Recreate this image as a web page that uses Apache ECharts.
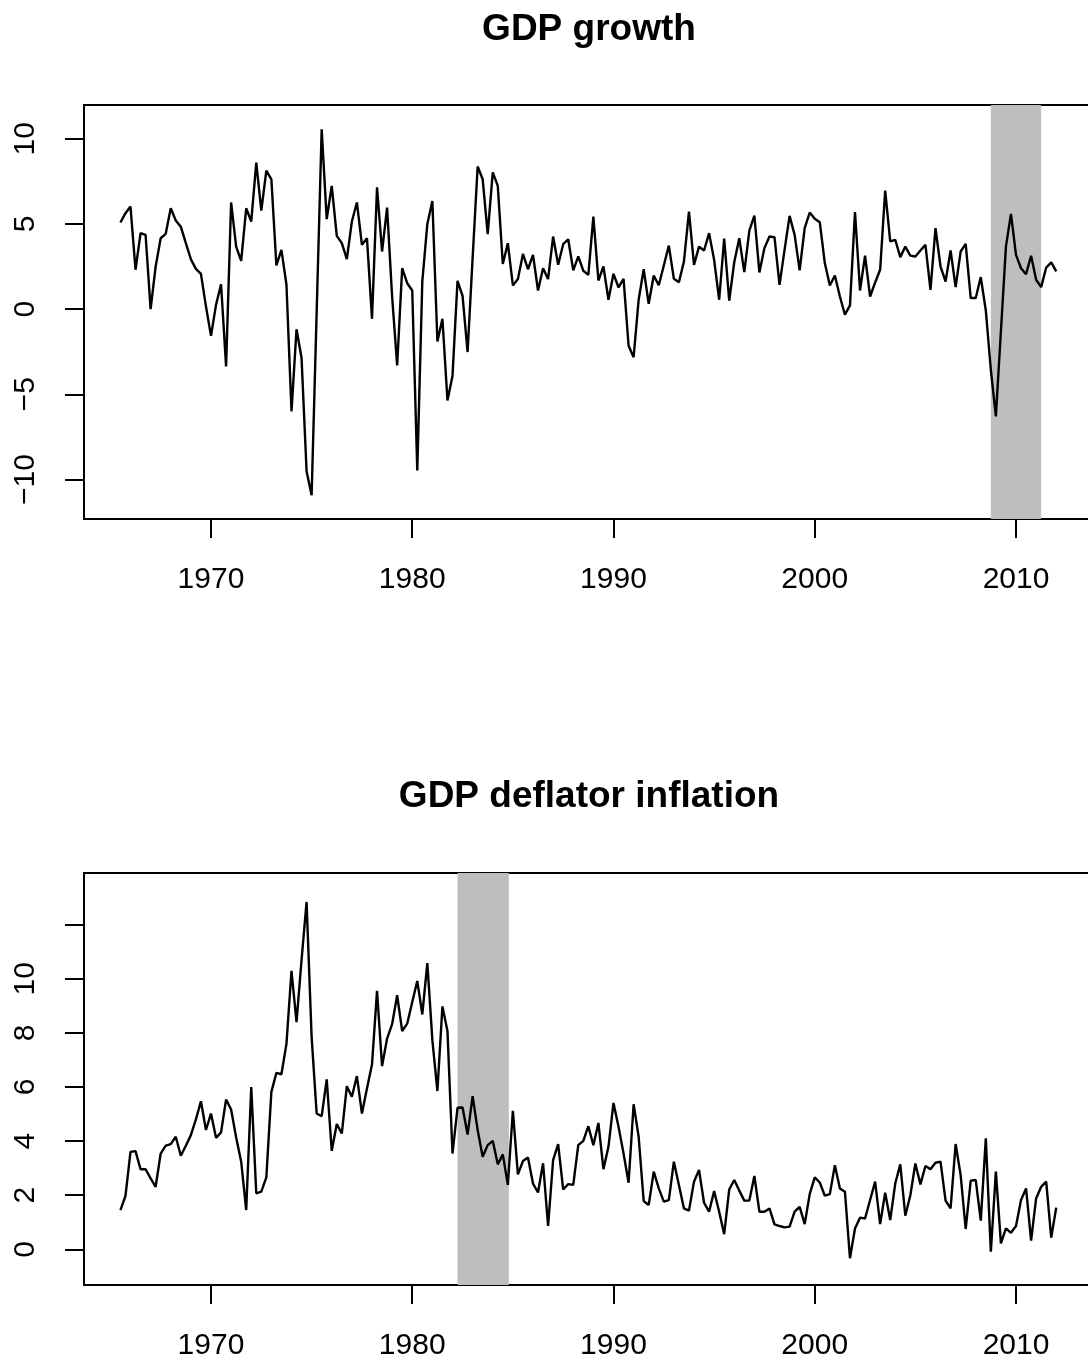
<!DOCTYPE html>
<html>
<head>
<meta charset="utf-8">
<script src="https://cdn.jsdelivr.net/npm/echarts@6/dist/echarts.min.js"></script>
<style>
  html, body { margin: 0; padding: 0; background: #ffffff; overflow: hidden; }
  #main { width: 1100px; height: 1363px; }
</style>
</head>
<body>
<div id="main"></div>
<script>
// quarterly series, first observation 1965 Q3
const startYear = 1965.5;
const step = 0.25;

const gdpGrowth = [
  5.08, 5.63, 6.02, 2.31, 4.46, 4.36, 0.0, 2.5, 4.16, 4.42,
  5.92, 5.2, 4.84, 3.87, 2.93, 2.36, 2.07, 0.16, -1.57, 0.25,
  1.46, -3.36, 6.26, 3.67, 2.83, 5.92, 5.14, 8.6, 5.78, 8.13,
  7.62, 2.56, 3.48, 1.43, -6.0, -1.18, -2.87, -9.52, -10.93, -0.2,
  10.56, 5.28, 7.23, 4.3, 3.87, 2.93, 5.14, 6.26, 3.77, 4.16,
  -0.57, 7.15, 3.38, 5.96, 0.74, -3.31, 2.4, 1.52, 1.09, -9.47,
  1.62, 5.0, 6.35, -1.9, -0.57, -5.36, -3.92, 1.66, 0.78, -2.52,
  3.0, 8.37, 7.62, 4.4, 8.03, 7.23, 2.65, 3.87, 1.39, 1.76,
  3.24, 2.34, 3.18, 1.09, 2.4, 1.76, 4.26, 2.6, 3.81, 4.1,
  2.27, 3.09, 2.25, 2.01, 5.43, 1.68, 2.5, 0.55, 2.07, 1.27,
  1.78, -2.15, -2.82, 0.55, 2.34, 0.31, 1.97, 1.4, 2.56, 3.73,
  1.78, 1.58, 2.79, 5.72, 2.6, 3.67, 3.44, 4.46, 2.89, 0.55,
  4.14, 0.49, 2.75, 4.16, 2.17, 4.61, 5.49, 2.15, 3.58, 4.26,
  4.22, 1.42, 3.48, 5.47, 4.36, 2.27, 4.75, 5.67, 5.3, 5.1,
  2.7, 1.39, 1.97, 0.74, -0.33, 0.22, 5.7, 1.09, 3.14, 0.74,
  1.56, 2.31, 6.96, 3.97, 4.07, 3.05, 3.67, 3.14, 3.09, 3.44,
  3.77, 1.13, 4.75, 2.5, 1.62, 3.44, 1.29, 3.38, 3.83, 0.65,
  0.65, 1.88, -0.08, -3.56, -6.3, -1.3, 3.67, 5.59, 3.18, 2.4,
  2.05, 3.13, 1.72, 1.29, 2.44, 2.74, 2.21
];

const deflatorInflation = [
  1.45, 1.97, 3.6, 3.63, 2.96, 2.96, 2.62, 2.31, 3.54, 3.83,
  3.89, 4.16, 3.46, 3.83, 4.22, 4.8, 5.47, 4.41, 5.02, 4.12,
  4.32, 5.54, 5.17, 4.13, 3.24, 1.45, 6.0, 2.07, 2.13, 2.66,
  5.82, 6.52, 6.47, 7.6, 10.29, 8.4, 10.7, 12.84, 7.85, 5.02,
  4.92, 6.28, 3.64, 4.63, 4.28, 6.03, 5.64, 6.4, 5.02, 5.94,
  6.83, 9.55, 6.77, 7.79, 8.32, 9.39, 8.07, 8.34, 9.14, 9.92,
  8.68, 10.58, 7.73, 5.85, 8.98, 8.07, 3.54, 5.23, 5.24, 4.24,
  5.66, 4.41, 3.42, 3.85, 4.01, 3.14, 3.51, 2.38, 5.12, 2.77,
  3.26, 3.39, 2.43, 2.1, 3.18, 0.86, 3.3, 3.89, 2.21, 2.41,
  2.38, 3.85, 4.01, 4.55, 3.85, 4.67, 2.96, 3.79, 5.41, 4.53,
  3.54, 2.46, 5.36, 4.16, 1.78, 1.64, 2.87, 2.25, 1.76, 1.82,
  3.24, 2.38, 1.51, 1.43, 2.5, 2.93, 1.72, 1.39, 2.15, 1.39,
  0.56, 2.21, 2.56, 2.17, 1.8, 1.8, 2.71, 1.39, 1.39, 1.51,
  0.92, 0.86, 0.81, 0.84, 1.39, 1.57, 0.93, 2.04, 2.66, 2.47,
  1.98, 2.04, 3.11, 2.25, 2.13, -0.33, 0.77, 1.17, 1.14, 1.82,
  2.5, 0.93, 2.09, 1.08, 2.43, 3.14, 1.24, 2.0, 3.17, 2.4,
  3.08, 2.96, 3.2, 3.24, 1.8, 1.51, 3.89, 2.74, 0.75, 2.54,
  2.56, 1.06, 4.1, -0.09, 2.87, 0.22, 0.77, 0.61, 0.86, 1.82,
  2.25, 0.32, 1.88, 2.31, 2.5, 0.43, 1.54
];

// shaded periods
const growthShade = [2008.75, 2011.25];
const inflationShade = [1982.25, 1984.8];

// tick labels
const xTicks = [1970, 1980, 1990, 2000, 2010];
const growthTicks = [-10, -5, 0, 5, 10];
const inflationTicks = [0, 2, 4, 6, 8, 10, 12];
const inflationLabels = [0, 2, 4, 6, 8, 10];

const titles = ['GDP growth', 'GDP deflator inflation'];

const toPairs = (arr) => arr.map((v, i) => [startYear + i * step, v]);

const font = '"Liberation Sans", Arial, Helvetica, sans-serif';

const xAxisBase = (gridIndex) => ({
  type: 'value',
  gridIndex,
  min: 1963.69,
  max: 2013.876,
  axisLine: { show: false, onZero: false },
  splitLine: { show: false },
  axisTick: {
    show: true,
    inside: false,
    length: 19,
    customValues: xTicks,
    lineStyle: { color: '#000', width: 2 },
  },
  axisLabel: {
    customValues: xTicks,
    margin: 46,
    color: '#000',
    fontSize: 30,
    fontFamily: font,
    formatter: (v) => String(v),
  },
});

const yAxisBase = (gridIndex, min, max, ticks, labels) => ({
  type: 'value',
  gridIndex,
  min,
  max,
  axisLine: { show: false, onZero: false },
  splitLine: { show: false },
  axisTick: {
    show: true,
    length: 19,
    customValues: ticks,
    lineStyle: { color: '#000', width: 2 },
  },
  axisLabel: {
    customValues: labels,
    rotate: 90,
    margin: 43,
    color: '#000',
    fontSize: 30,
    fontFamily: font,
    formatter: (v) => (v < 0 ? '\u2212' + Math.abs(v) : String(v)),
  },
});

const seriesBase = (idx, data, shade) => ({
  type: 'line',
  xAxisIndex: idx,
  yAxisIndex: idx,
  data: toPairs(data),
  showSymbol: false,
  lineStyle: { color: '#000', width: 2.4 },
  z: 3,
  markArea: {
    silent: true,
    itemStyle: { color: '#bebebe', opacity: 1 },
    data: [[{ xAxis: shade[0] }, { xAxis: shade[1] }]],
  },
});

const chart = echarts.init(document.getElementById('main'));
chart.setOption({
  animation: false,
  backgroundColor: '#fff',
  title: titles.map((t, i) => ({
    text: t,
    left: 584,
    top: 6 + i * 767,
    textAlign: 'center',
    textStyle: { fontSize: 37, fontWeight: 'bold', color: '#000', fontFamily: font },
  })),
  grid: [
    { left: 84, top: 105, width: 1010, height: 414, show: true, borderColor: '#000', borderWidth: 2, backgroundColor: 'transparent' },
    { left: 84, top: 873, width: 1010, height: 412, show: true, borderColor: '#000', borderWidth: 2, backgroundColor: 'transparent' },
  ],
  xAxis: [xAxisBase(0), xAxisBase(1)],
  yAxis: [
    yAxisBase(0, -12.32, 11.98, growthTicks, growthTicks),
    yAxisBase(1, -1.32, 13.91, inflationTicks, inflationLabels),
  ],
  series: [
    seriesBase(0, gdpGrowth, growthShade),
    seriesBase(1, deflatorInflation, inflationShade),
  ],
});
window.onresize = function () {
  chart.resize();
};
</script>
</body>
</html>
